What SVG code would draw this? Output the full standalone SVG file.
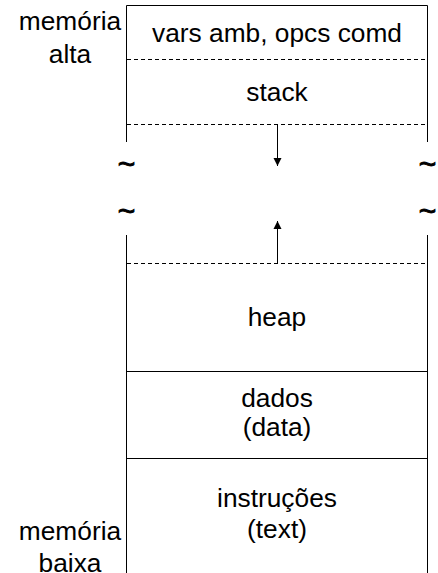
<svg xmlns="http://www.w3.org/2000/svg" width="438" height="573" viewBox="0 0 438 573">
  <style>
    text { font-family: "Liberation Sans", Arial, sans-serif; font-size: 26.3px; fill: #000; text-anchor: middle; }
    .tilde { font-size: 30px; stroke: #000; stroke-width: 0.9; }
    .solid { stroke: #000; stroke-width: 1; fill: none; }
    .dash { stroke: #000; stroke-width: 1; fill: none; stroke-dasharray: 4 3; }
  </style>
  <defs>
    <marker id="head" viewBox="0 0 10 10" refX="10" refY="5" markerWidth="8" markerHeight="11" markerUnits="userSpaceOnUse" orient="auto">
      <path d="M0,0 L10,5 L0,10 Z" fill="#000"/>
    </marker>
  </defs>

  <!-- side labels -->
  <g id="label-high">
    <text x="70" y="30">memória</text>
    <text x="70" y="63">alta</text>
  </g>
  <g id="label-low">
    <text x="70" y="540">memória</text>
    <text x="70" y="572">baixa</text>
  </g>

  <!-- memory column outline, broken by the free gap -->
  <g id="column">
    <path class="solid" d="M126.5,142 V5.5 H427.5 V142"/>
    <path class="solid" d="M126.5,235 V573"/>
    <path class="solid" d="M427.5,235 V573"/>
    <text class="tilde" x="126.5" y="174">~</text>
    <text class="tilde" x="427.5" y="174">~</text>
    <text class="tilde" x="126.5" y="221">~</text>
    <text class="tilde" x="427.5" y="221">~</text>
  </g>

  <g id="env">
    <text x="277" y="42">vars amb, opcs comd</text>
  </g>
  <g id="stack">
    <line class="dash" x1="127" y1="59.5" x2="427" y2="59.5"/>
    <text x="277" y="101">stack</text>
    <line class="dash" x1="127" y1="124.5" x2="427" y2="124.5"/>
  </g>
  <g id="heap">
    <line class="dash" x1="127" y1="263.5" x2="427" y2="263.5"/>
    <text x="277" y="326">heap</text>
  </g>
  <g id="data">
    <line class="solid" x1="127" y1="371.5" x2="427" y2="371.5"/>
    <text x="277" y="407">dados</text>
    <text x="277" y="436">(data)</text>
  </g>
  <g id="text">
    <line class="solid" x1="127" y1="458.5" x2="427" y2="458.5"/>
    <text x="277" y="507">instruções</text>
    <text x="277" y="538">(text)</text>
  </g>

  <g id="connectors">
    <line class="solid" x1="277.5" y1="124.5" x2="277.5" y2="166" marker-end="url(#head)"/>
    <line class="solid" x1="277.5" y1="263.5" x2="277.5" y2="221" marker-end="url(#head)"/>
  </g>
</svg>
